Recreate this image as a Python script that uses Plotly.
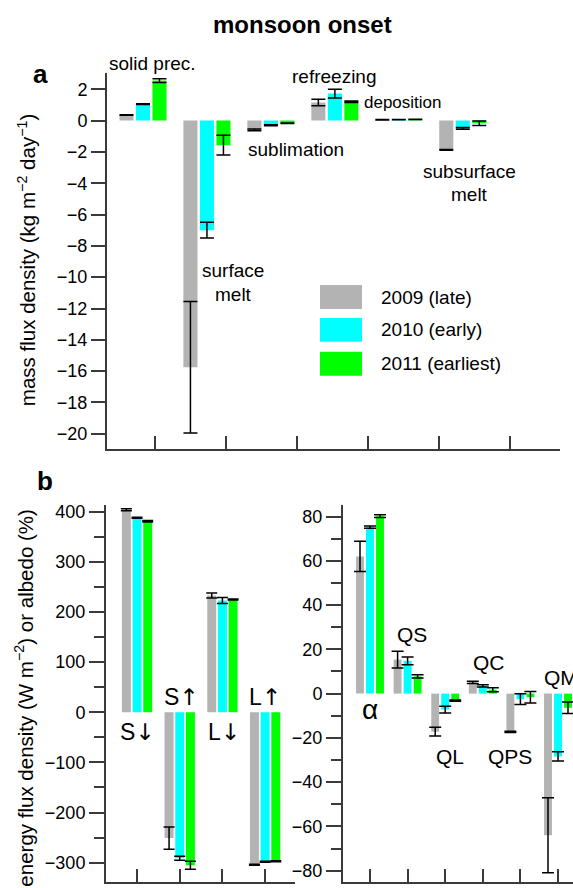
import plotly.graph_objects as go

W, H = 573, 888
FONT = "Liberation Sans, Arial, sans-serif"
AXC = "#3a3a3a"

years = ["2009 (late)", "2010 (early)", "2011 (earliest)"]
colors = ["#b3b3b3", "#00ffff", "#00ff00"]

# Panel a: mass fluxes (kg m-2 day-1)
a_cats = ["solid prec.", "surface melt", "sublimation", "refreezing", "deposition", "subsurface melt"]
a_vals = [
    [0.35, -15.75, -0.60, 1.15, 0.05, -1.87],
    [1.05, -7.00, -0.30, 1.72, 0.06, -0.50],
    [2.55, -1.57, -0.17, 1.20, 0.07, -0.17],
]
a_err = [
    [0.02, 4.20, 0.06, 0.21, 0.01, 0.02],
    [0.02, 0.50, 0.03, 0.28, 0.01, 0.05],
    [0.12, 0.63, 0.02, 0.05, 0.01, 0.14],
]

# Panel b left: radiative fluxes (W m-2)
bl_cats = ["S↓", "S↑", "L↓", "L↑"]
bl_vals = [
    [404, -251, 233, -304],
    [388, -291, 223, -298],
    [381, -305, 225, -297],
]
bl_err = [
    [2, 22, 5, 1],
    [1, 4, 6, 1],
    [1.5, 8, 1, 1],
]

# Panel b right: albedo (%) and other fluxes (W m-2)
br_cats = ["α", "QS", "QL", "QC", "QPS", "QM"]
br_vals = [
    [62.0, 15.4, -17.2, 5.1, -17.3, -64.0],
    [75.2, 14.8, -7.2, 3.5, -2.5, -28.4],
    [80.2, 7.8, -3.2, 1.8, -1.6, -6.4],
]
br_err = [
    [6.8, 3.8, 2.0, 0.5, 0.3, 17.0],
    [0.5, 1.7, 1.5, 0.5, 2.4, 2.1],
    [0.6, 0.7, 0.3, 0.9, 2.6, 2.6],
]

fig = go.Figure()

def add_panel(vals, errs, xa, ya, step, width, cap):
    for k in range(3):
        xs = list(range(len(vals[k])))
        fig.add_trace(go.Bar(
            x=xs, y=vals[k], name=years[k], xaxis=xa, yaxis=ya,
            marker=dict(color=colors[k], line=dict(width=0)),
            width=width, offset=(k - 1) * step - width / 2,
            error_y=dict(type="data", array=errs[k], visible=True,
                         color="black", thickness=1.5, width=cap),
            showlegend=False, hoverinfo="skip",
        ))

add_panel(a_vals, a_err, "x", "y", 0.258, 0.22, 7)
add_panel(bl_vals, bl_err, "x2", "y2", 0.25, 0.21, 5.5)
add_panel(br_vals, br_err, "x3", "y3", 0.266, 0.21, 6)

def px(x):
    return x / W

def py(y):
    return 1 - y / H

axis_common = dict(showline=True, linecolor=AXC, linewidth=2, showgrid=False,
                   zeroline=False, tickcolor=AXC, tickwidth=2,
                   tickfont=dict(family=FONT, size=18, color="black"))

fig.update_layout(
    width=W, height=H, margin=dict(l=0, r=0, t=0, b=0),
    paper_bgcolor="white", plot_bgcolor="white",
    barmode="overlay", showlegend=False,
    font=dict(family=FONT, color="black"),
    xaxis=dict(domain=[px(107), px(560)], range=[-0.5625, 6.52], anchor="y",
               tickvals=[0.1875, 1.297, 2.406, 3.516, 4.625, 5.734], showticklabels=False,
               ticks="inside", ticklen=13, **axis_common),
    yaxis=dict(domain=[py(448), py(70)], range=[-21.0, 3.05], anchor="x",
               tickvals=list(range(-20, 3, 2)), ticks="outside", ticklen=14, **axis_common),
    xaxis2=dict(domain=[px(106), px(295)], range=[-0.727, 3.70], anchor="y2",
                tickvals=[0, 1, 2, 3], showticklabels=False,
                ticks="inside", ticklen=13, **axis_common),
    yaxis2=dict(domain=[py(881.7), py(504)], range=[-338, 413], anchor="x2",
                tickvals=list(range(-300, 401, 100)), ticks="outside", ticklen=15,
                minor=dict(dtick=50, ticks="outside", ticklen=10, tickcolor=AXC, tickwidth=2),
                **axis_common),
    xaxis3=dict(domain=[px(343), 1.0], range=[-0.718, 5.399], anchor="y3",
                tickvals=[0, 1, 2, 3, 4, 5], showticklabels=False,
                ticks="inside", ticklen=13, **axis_common),
    yaxis3=dict(domain=[py(881.7), py(504)], range=[-85, 85.1], anchor="x3",
                tickvals=list(range(-80, 81, 20)), ticks="outside", ticklen=15,
                minor=dict(dtick=10, ticks="outside", ticklen=10, tickcolor=AXC, tickwidth=2),
                **axis_common),
)

ann = []

def text(t, x, y, size=19, bold=False, angle=0, xanchor="center", family=FONT):
    ann.append(dict(text=("<b>%s</b>" % t) if bold else t, x=px(x), y=py(y),
                    xref="paper", yref="paper", showarrow=False, textangle=angle,
                    xanchor=xanchor, yanchor="middle",
                    font=dict(family=family, size=size, color="black")))

text("monsoon onset", 303, 22, size=24, bold=True)
text("a", 40, 71, size=26, bold=True)
text("b", 45, 480, size=26, bold=True)

text("mass flux density (kg m<sup>−2</sup> day<sup>−1</sup>)", 27, 258, size=20.5, angle=-90)
text("energy flux density (W m<sup>−2</sup>) or albedo (%)", 24, 697, size=20.5, angle=-90)

# panel b left labels: letter in Liberation Sans, arrow in DejaVu Sans (monochrome)
def arrow_label(lbl):
    return "%s<span style=\"font-family:'DejaVu Sans'\">%s\ufe0e</span>" % (lbl[0], lbl[1])

# panel a labels
text("solid prec.", 152, 61)
text("refreezing", 334, 74)
text("deposition", 403, 100, size=17)
text("sublimation", 296, 147)
text("subsurface", 469, 169)
text("melt", 469, 192)
text("surface", 233, 268)
text("melt", 233, 292)

# legend
for k in range(3):
    yc = [295, 328, 362][k]
    fig.add_shape(type="rect", xref="paper", yref="paper",
                  x0=px(320), x1=px(362), y0=py(yc + 12), y1=py(yc - 12),
                  fillcolor=colors[k], line=dict(width=0))
    text(years[k], 379, yc, size=19, xanchor="left")

text(arrow_label(bl_cats[0]), 137, 731, size=23)
text(arrow_label(bl_cats[1]), 181, 696, size=23)
text(arrow_label(bl_cats[2]), 224, 731, size=23)
text(arrow_label(bl_cats[3]), 265, 696, size=23)

# panel b right labels
text(br_cats[0], 370, 709, size=28)
text(br_cats[1], 412, 634, size=21)
text(br_cats[2], 450, 756, size=21)
text(br_cats[3], 489, 662, size=21)
text(br_cats[4], 510, 756, size=21)
text(br_cats[5], 542, 677, size=21, xanchor="left")

fig.update_layout(annotations=ann)
fig.write_html("out.html", config={"displayModeBar": False, "staticPlot": True},
               post_script="document.body.style.margin='0';document.body.style.overflow='hidden';")
